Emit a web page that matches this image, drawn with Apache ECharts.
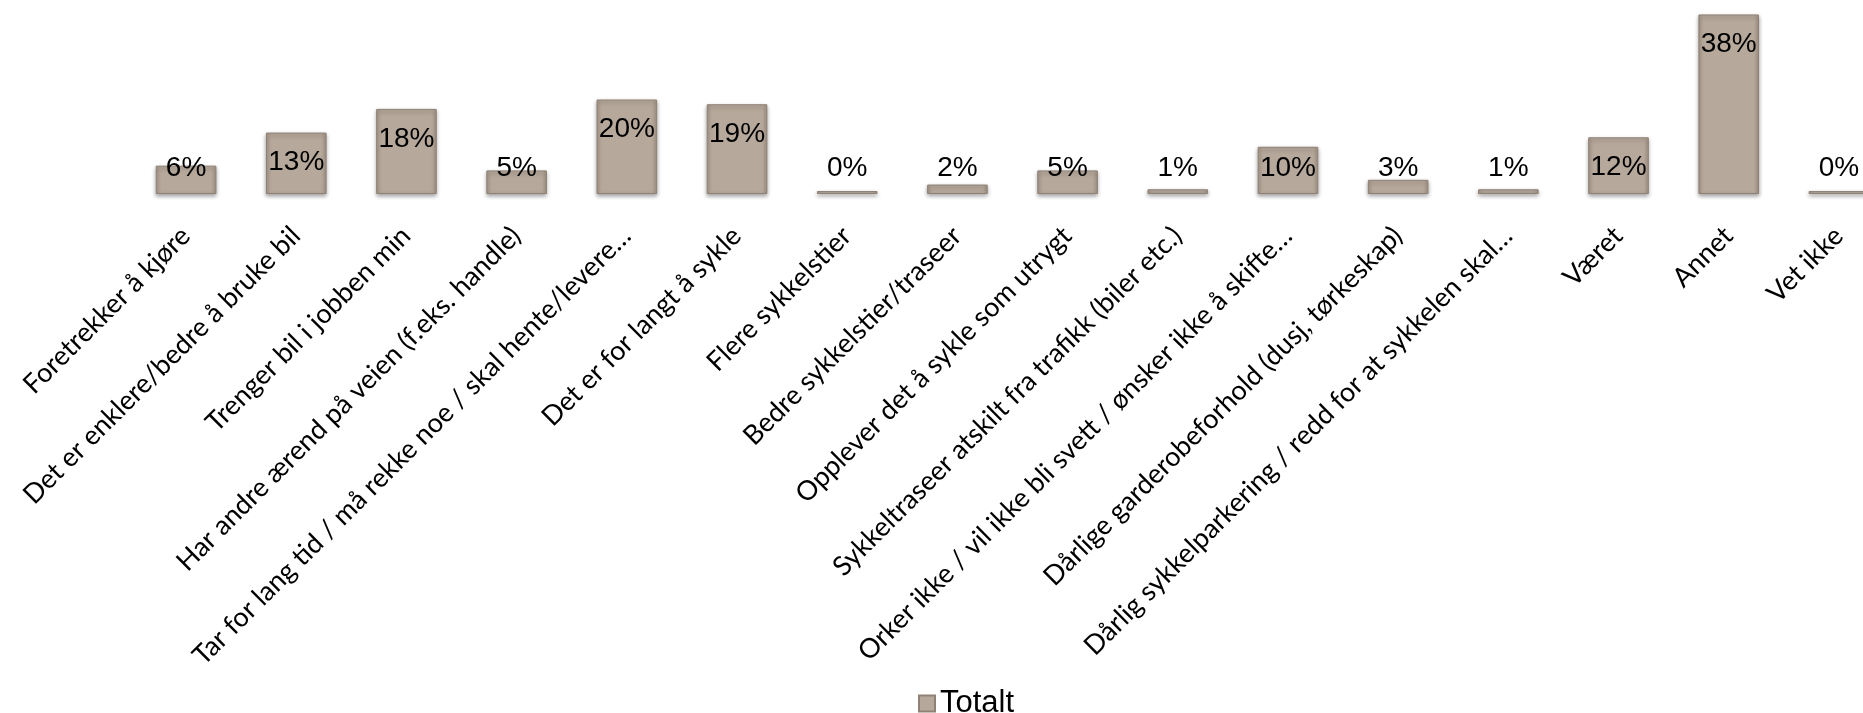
<!DOCTYPE html>
<html><head><meta charset="utf-8">
<script src="https://cdn.jsdelivr.net/npm/echarts@6/dist/echarts.min.js"></script>
<style>html,body{margin:0;padding:0;background:#fff;overflow:hidden}#c{width:1900px;height:713px}</style>
</head><body><div id="c"></div>
<script>
const categories = [
  "Foretrekker å kjøre",
  "Det er enklere/bedre å bruke bil",
  "Trenger bil i jobben min",
  "Har andre ærend på veien (f.eks. handle)",
  "Tar for lang tid / må rekke noe / skal hente/levere…",
  "Det er for langt å sykle",
  "Flere sykkelstier",
  "Bedre sykkelstier/traseer",
  "Opplever det å sykle som utrygt",
  "Sykkeltraseer atskilt fra trafikk (biler etc.)",
  "Orker ikke / vil ikke bli svett / ønsker ikke å skifte…",
  "Dårlige garderobeforhold (dusj, tørkeskap)",
  "Dårlig sykkelparkering / redd for at sykkelen skal…",
  "Været",
  "Annet",
  "Vet ikke"
];
const totalt = [6, 13, 18, 5, 20, 19, 0, 2, 5, 1, 10, 3, 1, 12, 38, 0];
const seriesName = "Totalt";

const chart = echarts.init(document.getElementById('c'));
const barColor = new echarts.graphic.LinearGradient(0, 0, 1, 0, [
  {offset: 0, color: '#a79889'},
  {offset: 0.08, color: '#b6a89b'},
  {offset: 0.92, color: '#b6a89b'},
  {offset: 1, color: '#a39486'}
]);
chart.setOption({
  animation: false,
  grid: {left: 131, width: 1763, top: 5, height: 189, containLabel: false},
  legend: {
    data: [seriesName], top: 683, left: 913,
    itemWidth: 16, itemHeight: 16, icon: 'rect', itemGap: 4,
    textStyle: {fontFamily: 'Liberation Sans', fontSize: 31, color: '#000'}
  },
  xAxis: {
    type: 'category', data: categories,
    axisLine: {show: false}, axisTick: {show: false},
    axisLabel: {interval: 0, rotate: 45, margin: 18, verticalAlign: 'top', padding: [0, 14, 0, 0],
      fontFamily: 'Lato', fontSize: 27, color: '#000'}
  },
  yAxis: {type: 'value', min: 0, max: 40, show: false, splitLine: {show: false}},
  series: [{
    name: seriesName, type: 'bar', barWidth: '55%', barMinHeight: 3,
    itemStyle: {color: barColor, borderColor: '#8f8175', borderWidth: 1,
      shadowBlur: 4, shadowColor: 'rgba(0,0,0,0.35)', shadowOffsetY: 2},
    label: {show: true, formatter: '{c}%', fontFamily: 'Liberation Sans', fontSize: 28, color: '#000'},
    data: totalt.map(v => ({
      value: v,
      label: v >= 12 ? {position: 'insideTop', distance: 16} : {position: 'insideBottom', distance: 12}
    }))
  }]
});
</script></body></html>
